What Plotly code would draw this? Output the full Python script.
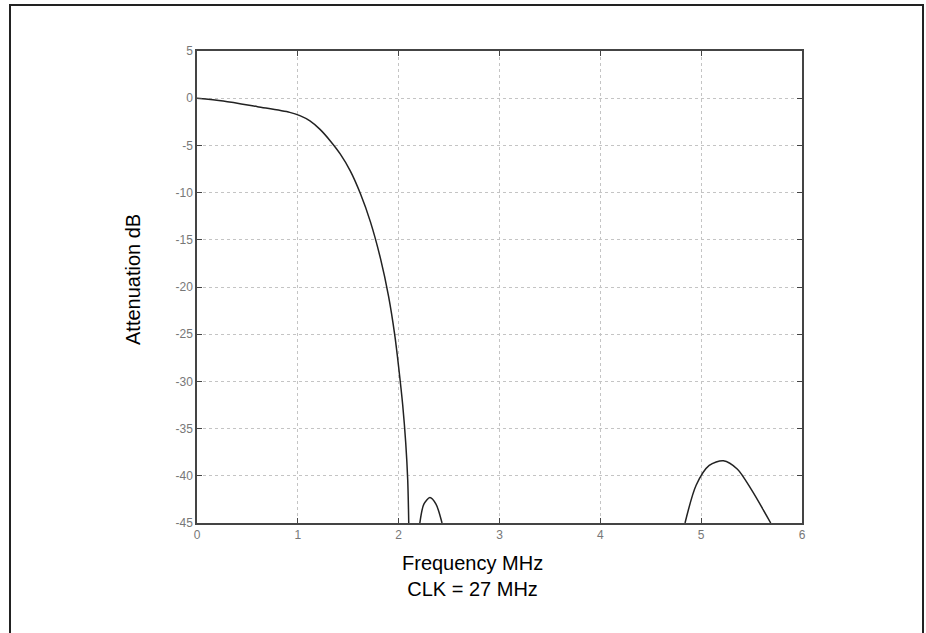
import plotly.graph_objects as go

# Main passband / transition curve
freq_main = [0.0, 0.26, 0.6, 0.92, 1.02, 1.12, 1.22, 1.32, 1.42, 1.52, 1.62, 1.72, 1.82, 1.90, 1.96, 2.0, 2.04, 2.07, 2.09, 2.1]
atten_main = [0.0, -0.3, -0.9, -1.5, -1.85, -2.4, -3.3, -4.5, -5.9, -7.7, -10.1, -13.1, -17.0, -21.0, -25.0, -28.5, -32.5, -36.5, -40.5, -45.0]

# First small stopband lobe
freq_lobe1 = [2.21, 2.25, 2.31, 2.37, 2.43]
atten_lobe1 = [-45.0, -43.0, -42.3, -43.0, -45.0]

# Second stopband lobe
freq_lobe2 = [4.84, 4.95, 5.08, 5.22, 5.36, 5.5, 5.69]
atten_lobe2 = [-45.0, -41.0, -38.9, -38.4, -39.3, -41.5, -45.0]

x_ticks = [0, 1, 2, 3, 4, 5, 6]
y_ticks = [5, 0, -5, -10, -15, -20, -25, -30, -35, -40, -45]

fig = go.Figure()
for xs, ys in [(freq_main, atten_main), (freq_lobe1, atten_lobe1), (freq_lobe2, atten_lobe2)]:
    fig.add_trace(go.Scatter(x=xs, y=ys, mode="lines",
                             line=dict(color="#222222", width=1.5, shape="spline", smoothing=0.8),
                             showlegend=False, hoverinfo="skip"))

L, R, T, B = 197, 802, 51, 523
W, H = 926, 633
pw, ph = R - L, B - T

def px(xp):
    return (xp - L) / pw

def py(yp):
    return (B - yp) / ph

axis_common = dict(
    showline=True, linecolor="#444444", linewidth=1.5, mirror="ticks",
    ticks="inside", ticklen=5, tickcolor="#444444",
    showgrid=True, gridcolor="#c4c4c4", griddash="dot", gridwidth=1,
    zeroline=False,
    tickfont=dict(family="Liberation Sans", size=12, color="#777777"),
)

fig.update_layout(
    width=W, height=H,
    margin=dict(l=L, r=W - R, t=T, b=H - B),
    paper_bgcolor="white", plot_bgcolor="white",
    xaxis=dict(range=[0, 6], tickvals=x_ticks, ticktext=[str(v) for v in x_ticks], **axis_common),
    yaxis=dict(range=[-45, 5], tickvals=y_ticks, ticktext=[str(v) for v in y_ticks], **axis_common),
    font=dict(family="Liberation Sans", color="black"),
    shapes=[dict(type="rect", xref="paper", yref="paper",
                 x0=px(10), x1=px(923), y0=py(670), y1=py(5),
                 line=dict(color="#222222", width=2), fillcolor="rgba(0,0,0,0)", layer="below")],
    annotations=[
        dict(text="Frequency MHz<br>CLK = 27 MHz", xref="paper", yref="paper",
             x=px(472), y=py(550), xanchor="center", yanchor="top", showarrow=False,
             font=dict(size=20, color="black", family="Liberation Sans")),
        dict(text="Attenuation dB", xref="paper", yref="paper", textangle=-90,
             x=px(133), y=py(280), xanchor="center", yanchor="middle", showarrow=False,
             font=dict(size=20, color="black", family="Liberation Sans")),
    ],
)

fig.write_html("out.html")
